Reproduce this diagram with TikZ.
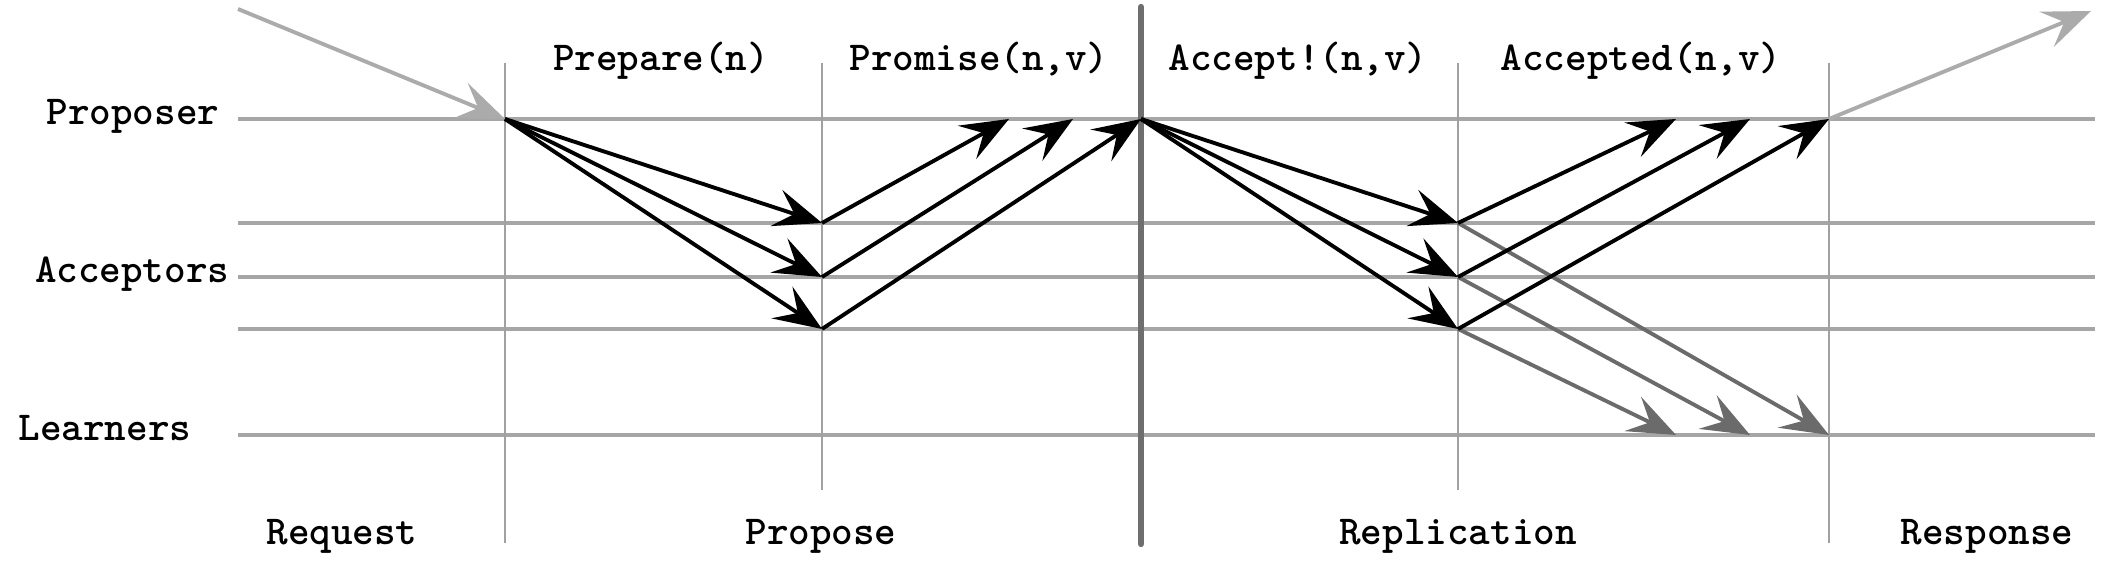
\documentclass[tikz,border=0pt]{standalone}
\usepackage{tikz}
\usetikzlibrary{arrows.meta,calc}
\tikzset{
  lane/.style={line width=1.1pt,black!35},
  phase/.style={line width=0.75pt,black!37},
  commit/.style={line width=1.8pt,black!57,line cap=round},
  msg/.style={-{Stealth[length=4.8mm,width=3.8mm,inset=1.9mm]},line width=1.1pt},
  learn/.style={msg,black!58},
  client/.style={msg,black!33},
  lbl/.style={font=\ttfamily\bfseries\fontsize{11.7}{14}\selectfont,inner sep=0pt}
}

\begin{document}
\begin{tikzpicture}
\useasboundingbox (0,0) rectangle (21.17,5.69);
% roles
\node[lbl,anchor=base east] (proposer) at (2.20,4.44) {Proposer};
\node[lbl,anchor=base east] (acceptors) at (2.30,2.86) {Acceptors};
\node[lbl,anchor=base east] (learners) at (1.92,1.28) {Learners};
% phases
\node[lbl,anchor=base] (request) at (3.42,0.24) {Request};
\node[lbl,anchor=base] (propose) at (8.21,0.24) {Propose};
\node[lbl,anchor=base] (replication) at (14.58,0.24) {Replication};
\node[lbl,anchor=base] (response) at (19.87,0.24) {Response};
% messages
\node[lbl,anchor=base] (prepare) at (6.61,4.98) {Prepare(n)};
\node[lbl,anchor=base] (promise) at (9.79,4.98) {Promise(n,v)};
\node[lbl,anchor=base] (accept) at (12.98,4.98) {Accept!(n,v)};
\node[lbl,anchor=base] (accepted) at (16.41,4.98) {Accepted(n,v)};
% lanes
\draw[lane] (2.38,4.50) -- (20.95,4.50);
\draw[lane] (2.38,3.46) -- (20.95,3.46);
\draw[lane] (2.38,2.92) -- (20.95,2.92);
\draw[lane] (2.38,2.40) -- (20.95,2.40);
\draw[lane] (2.38,1.34) -- (20.95,1.34);
\draw[phase] (5.05,5.06) -- (5.05,0.26);
\draw[phase] (8.22,5.06) -- (8.22,0.79);
\draw[phase] (14.58,5.06) -- (14.58,0.79);
\draw[phase] (18.29,5.06) -- (18.29,0.26);
\draw[commit] (11.41,5.62) -- (11.41,0.25);
% points
\coordinate (in) at (2.38,5.60);
\coordinate (out) at (20.91,5.58);
\coordinate (p0) at (5.05,4.50);
\coordinate (a1) at (8.22,3.46);
\coordinate (a2) at (8.22,2.92);
\coordinate (a3) at (8.22,2.40);
\coordinate (m1) at (10.09,4.50);
\coordinate (m2) at (10.73,4.50);
\coordinate (c0) at (11.41,4.50);
\coordinate (b1) at (14.58,3.46);
\coordinate (b2) at (14.58,2.92);
\coordinate (b3) at (14.58,2.40);
\coordinate (n1) at (16.76,4.50);
\coordinate (n2) at (17.50,4.50);
\coordinate (r0) at (18.29,4.50);
\coordinate (l1) at (16.76,1.34);
\coordinate (l2) at (17.50,1.34);
\coordinate (l3) at (18.29,1.34);
% arrows
\draw[client] (in) -- (p0);
\draw[client] (r0) -- (out);
\draw[learn] (b1) -- (l3);
\draw[learn] (b2) -- (l2);
\draw[learn] (b3) -- (l1);
\draw[msg] (p0) -- (a1);
\draw[msg] (p0) -- (a2);
\draw[msg] (p0) -- (a3);
\draw[msg] (a1) -- (m1);
\draw[msg] (a2) -- (m2);
\draw[msg] (a3) -- (c0);
\draw[msg] (c0) -- (b1);
\draw[msg] (c0) -- (b2);
\draw[msg] (c0) -- (b3);
\draw[msg] (b1) -- (n1);
\draw[msg] (b2) -- (n2);
\draw[msg] (b3) -- (r0);
\end{tikzpicture}
\end{document}
